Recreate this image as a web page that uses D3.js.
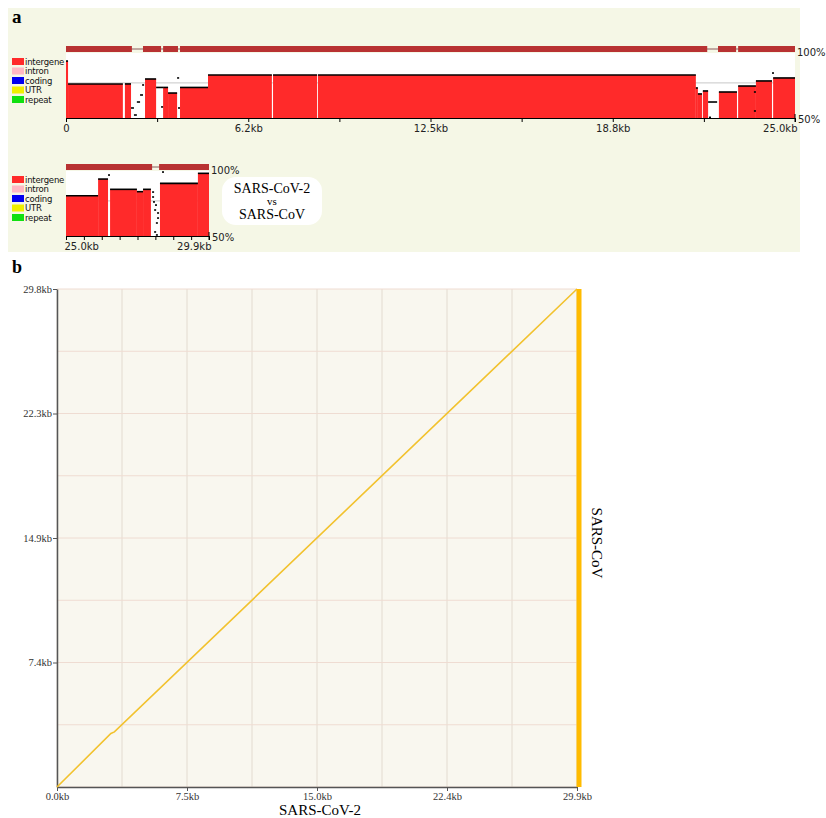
<!DOCTYPE html>
<html>
<head>
<meta charset="utf-8">
<script src="https://cdn.jsdelivr.net/npm/d3@7"></script>
<style>
  body { margin: 0; background: #fff; }
  svg { display: block; }
</style>
</head>
<body>
<script>
// legend of panel a
const legendLabels = ['intergene', 'intron', 'coding', 'UTR', 'repeat']

// panel a, first row (0 - 25.0kb)
// conserved blocks: [startKb, endKb, identity %]
const row1Blocks = [
  [0.00, 0.07, 93.8], [0.07, 1.95, 76.2], [2.02, 2.23, 76.2], [2.71, 3.09, 80.0],
  [3.33, 3.50, 73.5], [3.50, 3.81, 69.2], [3.91, 4.87, 73.5], [4.87, 7.06, 83.1],
  [7.10, 8.61, 83.1], [8.64, 21.60, 83.1], [21.60, 21.67, 73.1], [21.67, 21.81, 68.5],
  [21.84, 22.02, 70.8], [22.39, 23.01, 70.0], [23.05, 23.66, 74.6], [23.66, 24.21, 78.5],
  [24.25, 25.00, 80.8]
]
// unfilled parts of the identity curve
const row1Dashes = [
  [2.23, 2.33, 57.7], [2.33, 2.43, 52.3], [2.43, 2.54, 62.3], [2.54, 2.64, 67.7],
  [2.61, 2.64, 75.4], [3.09, 3.33, 73.5], [3.26, 3.33, 58.5], [3.81, 3.88, 80.8],
  [3.84, 3.91, 57.7], [22.02, 22.33, 62.3], [22.05, 22.12, 50.5], [23.59, 23.66, 70.0],
  [23.59, 23.66, 55.4], [24.21, 24.28, 84.6]
]
const row1Genes = [[0, 2.26], [2.64, 3.26], [3.33, 3.84], [3.91, 21.99], [22.36, 22.98], [23.05, 25.0]]
const row1Ticks = [0, 3.125, 6.25, 9.375, 12.5, 15.625, 18.75, 21.875, 25.0]
const row1TickLabels = ['0', '', '6.2kb', '', '12.5kb', '', '18.8kb', '', '25.0kb']

// panel a, second row (25.0 - 29.9kb)
const row2Blocks = [
  [25.00, 26.10, 81.0], [26.10, 26.44, 93.8], [26.51, 27.43, 85.9], [27.43, 27.64, 84.1],
  [27.64, 27.91, 85.9], [28.22, 29.52, 90.5], [29.52, 29.90, 98.2]
]
const row2Dashes = [
  [26.44, 26.48, 96.9], [27.95, 27.98, 83.8], [27.95, 27.98, 80.0], [27.98, 28.02, 76.2],
  [28.05, 28.08, 73.8], [28.02, 28.05, 70.0], [28.12, 28.15, 67.7], [28.12, 28.15, 63.8],
  [28.08, 28.12, 60.0], [28.02, 28.05, 53.1], [28.08, 28.12, 50.8], [28.29, 28.32, 99.2]
]
const row2Genes = [[25.0, 27.95], [28.19, 29.9]]
const row2Ticks = [25.0, 25.6125, 26.225, 26.8375, 27.45, 28.0625, 28.675, 29.2875, 29.9]
const row2TickLabels = ['25.0kb', '', '', '', '', '', '', '', '29.9kb']

const cutoff = 77 // grey reference level
const comparison = ['SARS-CoV-2', 'vs', 'SARS-CoV']

// panel b, dot plot
const dotLine = [[0, 0], [3.1, 3.2], [3.3, 3.3], [29.9, 29.8]]
const lenX = 29.9 // SARS-CoV-2
const lenY = 29.8 // SARS-CoV
const bXTicks = [0, 7.475, 14.95, 22.425, 29.9]
const bXLabels = ['0.0kb', '7.5kb', '15.0kb', '22.4kb', '29.9kb']
const bYTicks = [7.45, 14.9, 22.35, 29.8]
const bYLabels = ['7.4kb', '14.9kb', '22.3kb', '29.8kb']

const W = 826, H = 818
const svg = d3.select('body').append('svg')
  .attr('width', W).attr('height', H)

const small = '"DejaVu Sans", Verdana, sans-serif'
const serif = '"Liberation Serif", "Times New Roman", serif'

// ---------------- panel a ----------------
svg.append('rect')
  .attr('x', 8).attr('y', 8).attr('width', 792).attr('height', 244)
  .attr('fill', '#f5f7e6')

svg.append('text')
  .attr('x', 12).attr('y', 23)
  .attr('font-family', serif).attr('font-weight', 'bold').attr('font-size', 19)
  .text('a')

const colorScale = d3.scaleOrdinal()
  .domain(legendLabels)
  .range(['#ff2a2a', '#ffb8c4', '#0000f0', '#f0f000', '#10e010'])

function drawRow(cfg) {
  const x = d3.scaleLinear().domain(cfg.domain).range([cfg.x0, cfg.x1])
  const y = d3.scaleLinear().domain([50, 100]).range([cfg.yBase, cfg.yTop])
  const g = svg.append('g')

  // white plot area
  g.append('rect')
    .attr('x', cfg.x0).attr('y', cfg.yTop)
    .attr('width', cfg.x1 - cfg.x0).attr('height', cfg.yBase - cfg.yTop)
    .attr('fill', '#fff')

  g.append('line')
    .attr('x1', cfg.x0).attr('x2', cfg.x1)
    .attr('y1', y(cutoff)).attr('y2', y(cutoff))
    .attr('stroke', '#c8c8c8').attr('stroke-width', 1)

  // gene track
  const gy = cfg.yTop - 4
  g.append('line')
    .attr('x1', cfg.x0).attr('x2', cfg.x1)
    .attr('y1', gy).attr('y2', gy)
    .attr('stroke', '#8a5a5a').attr('stroke-width', 1)
  g.selectAll('rect.gene')
    .data(cfg.genes)
    .enter()
    .append('rect')
    .attr('class', 'gene')
    .attr('x', d => x(d[0]))
    .attr('width', d => x(d[1]) - x(d[0]))
    .attr('y', gy - 3).attr('height', 6)
    .attr('fill', '#b83232')

  // conserved blocks
  g.selectAll('rect.block')
    .data(cfg.blocks)
    .enter()
    .append('rect')
    .attr('class', 'block')
    .attr('x', d => x(d[0]))
    .attr('width', d => Math.max(1, x(d[1]) - x(d[0])))
    .attr('y', d => y(d[2]))
    .attr('height', d => cfg.yBase - y(d[2]))
    .attr('fill', colorScale('intergene'))

  g.selectAll('line.curve')
    .data(cfg.blocks.concat(cfg.dashes))
    .enter()
    .append('line')
    .attr('class', 'curve')
    .attr('x1', d => x(d[0]))
    .attr('x2', d => Math.max(x(d[0]) + 2, x(d[1])))
    .attr('y1', d => y(d[2]))
    .attr('y2', d => y(d[2]))
    .attr('stroke', '#000').attr('stroke-width', 1.6)

  // axis
  const ax = g.append('g').attr('transform', `translate(0,${cfg.yBase})`)
  ax.call(d3.axisBottom(x)
      .tickValues(cfg.ticks)
      .tickSize(4)
      .tickSizeOuter(0)
      .tickFormat((d, i) => cfg.tickLabels[i]))
  ax.select('.domain').attr('stroke', '#000')
  ax.selectAll('text')
    .attr('y', 7)
    .attr('font-family', small).attr('font-size', 10).attr('fill', '#222')
  ax.selectAll('.tick text')
    .filter((d, i) => i === 0 && cfg.tickLabels[0] !== '0')
    .attr('text-anchor', 'start').attr('x', -2)
  ax.selectAll('.tick text')
    .filter((d, i) => i === cfg.ticks.length - 1)
    .attr('text-anchor', 'end').attr('x', 2)
  ax.append('line')
    .attr('x1', cfg.x1).attr('x2', cfg.x1).attr('y1', -4).attr('y2', 4)
    .attr('stroke', '#000')

  g.append('text')
    .attr('x', cfg.x1 + 2).attr('y', cfg.yTop + 3)
    .attr('font-family', small).attr('font-size', 10).attr('fill', '#222')
    .text('100%')
  g.append('text')
    .attr('x', cfg.x1 + 3).attr('y', cfg.yBase + 5)
    .attr('font-family', small).attr('font-size', 10).attr('fill', '#222')
    .text('50%')

  // legend
  const lg = g.append('g')
    .selectAll('g')
    .data(legendLabels)
    .enter()
    .append('g')
    .attr('transform', (d, i) => `translate(12,${cfg.yTop + 5 + i * 9.5})`)
  lg.append('rect')
    .attr('width', 12).attr('height', 7)
    .attr('fill', d => colorScale(d))
  lg.append('text')
    .attr('x', 13).attr('y', 6.5)
    .attr('font-family', small).attr('font-size', 8.5).attr('fill', '#111')
    .attr('letter-spacing', -0.2)
    .text(d => d)
}

drawRow({
  domain: [0, 25.0], x0: 66, x1: 795, yTop: 53, yBase: 118,
  blocks: row1Blocks, dashes: row1Dashes, genes: row1Genes,
  ticks: row1Ticks, tickLabels: row1TickLabels
})
drawRow({
  domain: [25.0, 29.9], x0: 66, x1: 209, yTop: 171, yBase: 236,
  blocks: row2Blocks, dashes: row2Dashes, genes: row2Genes,
  ticks: row2Ticks, tickLabels: row2TickLabels
})

// comparison caption
svg.append('rect')
  .attr('x', 222).attr('y', 177).attr('width', 100).attr('height', 48)
  .attr('rx', 14).attr('fill', '#fff')
svg.selectAll('text.cmp')
  .data(comparison)
  .enter()
  .append('text')
  .attr('class', 'cmp')
  .attr('x', 272)
  .attr('y', (d, i) => [193, 205, 219][i])
  .attr('text-anchor', 'middle')
  .attr('font-family', serif)
  .attr('font-size', (d, i) => i === 1 ? 11 : 14)
  .text(d => d)

// ---------------- panel b ----------------
svg.append('text')
  .attr('x', 12).attr('y', 273)
  .attr('font-family', serif).attr('font-weight', 'bold').attr('font-size', 18)
  .text('b')

const bx = d3.scaleLinear().domain([0, lenX]).range([57, 577])
const by = d3.scaleLinear().domain([0, lenY]).range([787, 289])

const pb = svg.append('g')
pb.append('rect')
  .attr('x', 57).attr('y', 289).attr('width', 520).attr('height', 498)
  .attr('fill', '#f9f7ef')

// grid every half tick
const gridX = d3.range(9).map(i => i * lenX / 8)
const gridY = d3.range(9).map(i => i * lenY / 8)
pb.selectAll('line.gx')
  .data(gridX)
  .enter()
  .append('line')
  .attr('x1', d => bx(d)).attr('x2', d => bx(d))
  .attr('y1', 289).attr('y2', 787)
  .attr('stroke', '#e3dbd0').attr('stroke-width', 1)
pb.selectAll('line.gy')
  .data(gridY)
  .enter()
  .append('line')
  .attr('y1', d => by(d)).attr('y2', d => by(d))
  .attr('x1', 57).attr('x2', 577)
  .attr('stroke', '#efdcd2').attr('stroke-width', 1)

// x axis
const bxAxis = pb.append('g').attr('transform', 'translate(0,787)')
bxAxis.call(d3.axisBottom(bx)
    .tickValues(bXTicks)
    .tickSize(4)
    .tickSizeOuter(0)
    .tickFormat((d, i) => bXLabels[i]))
bxAxis.select('.domain').attr('stroke', '#555').attr('stroke-width', 1.5)
bxAxis.selectAll('line').attr('stroke', '#555')
bxAxis.selectAll('text')
  .attr('y', 6)
  .attr('font-family', serif).attr('font-size', 10.5).attr('fill', '#333')

// y axis
const byAxis = pb.append('g').attr('transform', 'translate(57,0)')
byAxis.call(d3.axisLeft(by)
    .tickValues(bYTicks)
    .tickSize(4)
    .tickSizeOuter(0)
    .tickFormat((d, i) => bYLabels[i]))
byAxis.select('.domain').attr('stroke', '#555').attr('stroke-width', 1.5)
byAxis.selectAll('line').attr('stroke', '#555')
byAxis.selectAll('text')
  .attr('x', -5)
  .attr('font-family', serif).attr('font-size', 10.5).attr('fill', '#333')

// alignment line
pb.append('path')
  .datum(dotLine)
  .attr('d', d3.line().x(d => bx(d[0])).y(d => by(d[1])))
  .attr('fill', 'none')
  .attr('stroke', '#f2c22e')
  .attr('stroke-width', 1.6)

// end bar at the right
pb.append('line')
  .attr('x1', bx(lenX) + 2).attr('x2', bx(lenX) + 2)
  .attr('y1', by(lenY)).attr('y2', by(0))
  .attr('stroke', '#ffbb00').attr('stroke-width', 5)

// axis titles
svg.append('text')
  .attr('x', 320).attr('y', 815)
  .attr('text-anchor', 'middle')
  .attr('font-family', serif).attr('font-size', 15)
  .text('SARS-CoV-2')
svg.append('text')
  .attr('transform', 'translate(592,543) rotate(90)')
  .attr('text-anchor', 'middle')
  .attr('font-family', serif).attr('font-size', 15)
  .text('SARS-CoV')
</script>
</body>
</html>
